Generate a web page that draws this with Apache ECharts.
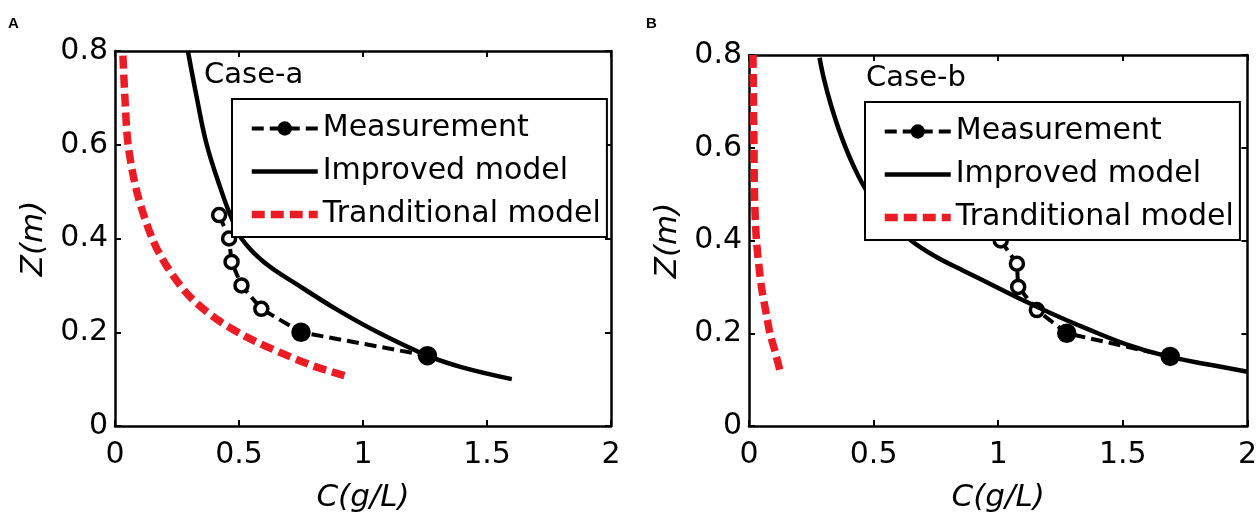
<!DOCTYPE html>
<html>
<head>
<meta charset="utf-8">
<script src="https://cdn.jsdelivr.net/npm/echarts@6/dist/echarts.min.js"></script>
<style>
  html, body { margin: 0; padding: 0; background: #fff; }
  #chart { width: 1260px; height: 518px; }
</style>
</head>
<body>
<div id="chart"></div>
<script>
// Axis ranges shared by both panels
const cRange = [0, 2, 0.5];   // min, max, interval of C (g/L)
const zRange = [0, 0.8, 0.2]; // min, max, interval of Z (m)

const seriesNames = ['Measurement', 'Improved model', 'Tranditional model'];
const caseLabels = ['Case-a', 'Case-b'];

// Case-a: measured concentration profile
const caseA_measC = [0.42, 0.46, 0.47, 0.51, 0.59, 0.75, 1.26];
const caseA_measZ = [0.45, 0.40, 0.35, 0.30, 0.25, 0.20, 0.15];
// Case-a: improved model
const caseA_impC = [0.294, 0.33, 0.37, 0.43, 0.465, 0.51, 0.60, 0.74, 0.89, 1.06, 1.26, 1.40, 1.60];
const caseA_impZ = [0.80, 0.70, 0.60, 0.50, 0.45, 0.40, 0.35, 0.30, 0.25, 0.20, 0.15, 0.125, 0.10];
// Case-a: traditional model
const caseA_tradC = [0.032, 0.04, 0.053, 0.088, 0.15, 0.21, 0.30, 0.41, 0.53, 0.665, 0.80, 0.935];
const caseA_tradZ = [0.79, 0.70, 0.60, 0.50, 0.40, 0.34, 0.277, 0.228, 0.19, 0.157, 0.128, 0.106];

// Case-b: measured concentration profile
const caseB_measC = [1.01, 1.075, 1.08, 1.155, 1.275, 1.69];
const caseB_measZ = [0.40, 0.35, 0.30, 0.25, 0.20, 0.15];
// Case-b: improved model
const caseB_impC = [0.283, 0.30, 0.33, 0.37, 0.42, 0.48, 0.56, 0.65, 0.75, 0.86, 0.98, 1.10, 1.22, 1.35, 1.52, 1.68, 1.85, 2.0];
const caseB_impZ = [0.794, 0.75, 0.69, 0.625, 0.56, 0.50, 0.445, 0.40, 0.365, 0.335, 0.303, 0.271, 0.241, 0.211, 0.175, 0.150, 0.132, 0.117];
// Case-b: traditional model
const caseB_tradC = [0.016, 0.018, 0.02, 0.022, 0.03, 0.05, 0.07, 0.084, 0.105, 0.124];
const caseB_tradZ = [0.80, 0.70, 0.60, 0.50, 0.40, 0.30, 0.24, 0.20, 0.16, 0.12];

const FONT = 'DejaVu Sans';
const RED = '#ec1c24';
const zip = (xs, ys) => xs.map((x, i) => [x, ys[i]]);

const panels = [
  { grid: { left: 115, top: 51, width: 496, height: 376 },
    legend: { left: 232, top: 99 }, label: { x: 204, y: 78 },
    meas: zip(caseA_measC, caseA_measZ), imp: zip(caseA_impC, caseA_impZ), trad: zip(caseA_tradC, caseA_tradZ) },
  { grid: { left: 749, top: 55, width: 501, height: 381 },
    legend: { left: 865, top: 102 }, label: { x: 866, y: 81 },
    meas: zip(caseB_measC, caseB_measZ), imp: zip(caseB_impC, caseB_impZ), trad: zip(caseB_tradC, caseB_tradZ) }
];

const axisLineStyle = { color: '#000', width: 2.5 };
const tickLabel = { color: '#000', fontFamily: FONT, fontSize: 30 };
const titleStyle = { color: '#000', fontFamily: FONT, fontSize: 31, fontStyle: 'italic' };

const measLine = { color: '#000', width: 4, type: [12, 6] };
const impLine = { color: '#000', width: 4.5 };
const tradLine = { color: RED, width: 7.5, type: [13, 6], cap: 'butt' };

const grids = [], xAxes = [], yAxes = [], series = [], legends = [], graphics = [];

panels.forEach((p, k) => {
  grids.push(Object.assign({ containLabel: false }, p.grid));
  const common = { type: 'value', gridIndex: k, splitLine: { show: false },
    axisLine: { show: true, onZero: false, lineStyle: axisLineStyle },
    axisTick: { show: true, inside: true, length: 6, lineStyle: { color: '#000', width: 2 } } };

  xAxes.push(Object.assign({}, common, {
    position: 'bottom', min: cRange[0], max: cRange[1], interval: cRange[2],
    axisLabel: Object.assign({ margin: 14 }, tickLabel),
    name: 'C(g/L)', nameLocation: 'middle', nameGap: 56, nameTextStyle: titleStyle
  }));
  xAxes.push(Object.assign({}, common, {
    position: 'top', min: cRange[0], max: cRange[1], interval: cRange[2],
    axisLabel: { show: false }
  }));
  yAxes.push(Object.assign({}, common, {
    position: 'left', min: zRange[0], max: zRange[1], interval: zRange[2],
    axisLabel: Object.assign({ margin: 7 }, tickLabel),
    name: 'Z(m)', nameLocation: 'middle', nameGap: 66, nameTextStyle: titleStyle
  }));
  yAxes.push(Object.assign({}, common, {
    position: 'right', min: zRange[0], max: zRange[1], interval: zRange[2],
    axisLabel: { show: false }
  }));

  const ax = { xAxisIndex: 2 * k, yAxisIndex: 2 * k };
  series.push(Object.assign({
    name: seriesNames[0], type: 'line', data: p.meas, z: 3,
    symbol: 'circle',
    symbolSize: v => (v[1] >= 0.25 ? 13 : 16),
    itemStyle: { color: params => (params.value[1] >= 0.25 ? '#fff' : '#000'), borderColor: '#000', borderWidth: 3.5 },
    lineStyle: measLine
  }, ax));
  series.push(Object.assign({
    name: seriesNames[1], type: 'line', data: p.imp, z: 4,
    symbol: 'none', smooth: 0.4,
    lineStyle: impLine
  }, ax));
  series.push(Object.assign({
    name: seriesNames[2], type: 'line', data: p.trad, z: 5,
    symbol: 'none', smooth: 0.3,
    lineStyle: tradLine
  }, ax));

  legends.push({
    orient: 'vertical', left: p.legend.left, top: p.legend.top,
    backgroundColor: '#fff', borderColor: '#000', borderWidth: 2, borderRadius: 0,
    padding: [13, 6, 6, 16], itemWidth: 66, itemHeight: 18, itemGap: 10,
    selectedMode: false,
    textStyle: { color: '#000', fontFamily: FONT, fontSize: 30, lineHeight: 33 },
    data: [
      { name: seriesNames[0], itemStyle: { color: '#000', borderWidth: 0 }, lineStyle: measLine },
      { name: seriesNames[1], itemStyle: { color: 'transparent', borderWidth: 0 }, lineStyle: impLine },
      { name: seriesNames[2], itemStyle: { color: 'transparent', borderWidth: 0 }, lineStyle: tradLine }
    ],
    z: 10
  });

  graphics.push({
    type: 'text', left: p.label.x, top: p.label.y - 17, z: 20,
    style: { text: caseLabels[k], fill: '#000', font: '29px "' + FONT + '"' }
  });
});

graphics.push({ type: 'text', left: 8, top: 16, style: { text: 'A', fill: '#000', font: 'bold 15px "Liberation Sans"' } });
graphics.push({ type: 'text', left: 646, top: 16, style: { text: 'B', fill: '#000', font: 'bold 15px "Liberation Sans"' } });

const chart = echarts.init(document.getElementById('chart'), null, { renderer: 'canvas' });
chart.setOption({
  backgroundColor: '#fff',
  animation: false,
  grid: grids,
  xAxis: xAxes,
  yAxis: yAxes,
  legend: legends,
  series: series,
  graphic: graphics
});
</script>
</body>
</html>
